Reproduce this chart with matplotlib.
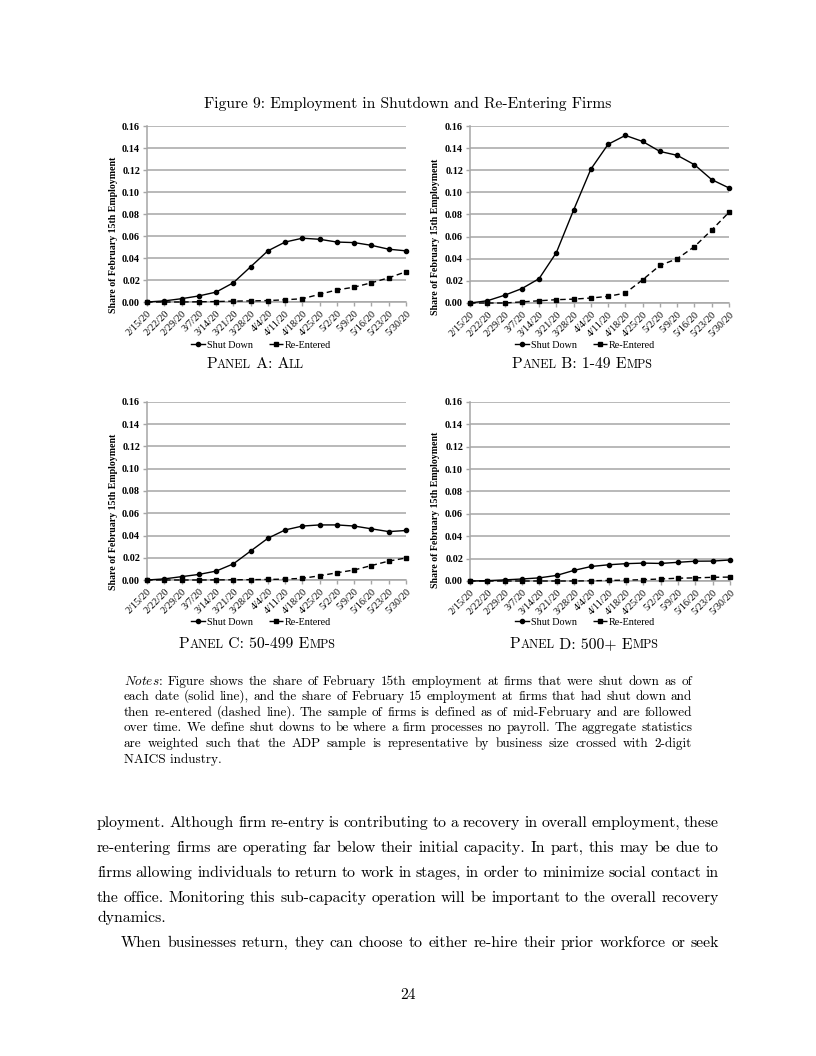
import matplotlib
matplotlib.use('Agg')
import matplotlib.pyplot as plt

dates = ['2/15/20', '2/22/20', '2/29/20', '3/7/20', '3/14/20', '3/21/20', '3/28/20', '4/4/20',
         '4/11/20', '4/18/20', '4/25/20', '5/2/20', '5/9/20', '5/16/20', '5/23/20', '5/30/20']

shut_all = [0.000, 0.001, 0.003, 0.0055, 0.009, 0.0175, 0.032, 0.0465,
            0.0545, 0.058, 0.057, 0.0545, 0.054, 0.0515, 0.048, 0.0465]
re_all = [0.000, 0.000, 0.000, 0.0002, 0.0004, 0.0008, 0.001, 0.0013,
          0.002, 0.003, 0.007, 0.011, 0.0135, 0.0175, 0.022, 0.0275]

shut_small = [0.000, 0.002, 0.007, 0.013, 0.022, 0.0455, 0.084, 0.121,
              0.1435, 0.1515, 0.146, 0.137, 0.1335, 0.125, 0.1115, 0.104]
re_small = [0.000, 0.000, 0.000, 0.001, 0.002, 0.003, 0.0035, 0.0045,
            0.006, 0.009, 0.021, 0.034, 0.040, 0.051, 0.066, 0.082]

shut_mid = [0.000, 0.001, 0.003, 0.005, 0.008, 0.0145, 0.026, 0.0375,
            0.045, 0.0485, 0.0495, 0.0495, 0.0485, 0.046, 0.0435, 0.0445]
re_mid = [0.000, 0.000, 0.000, 0.000, 0.0001, 0.0002, 0.0003, 0.0005,
          0.0008, 0.0015, 0.0038, 0.0065, 0.009, 0.013, 0.017, 0.0198]

shut_large = [0.000, 0.0003, 0.001, 0.0018, 0.0028, 0.005, 0.0095, 0.013,
              0.0145, 0.0155, 0.016, 0.0157, 0.0167, 0.0177, 0.0178, 0.0188]
re_large = [0.000, 0.000, 0.000, 0.000, 0.000, 0.000, 0.000, 0.0002,
            0.0005, 0.0008, 0.0012, 0.0018, 0.0025, 0.0028, 0.0033, 0.0035]

yticks = [0.00, 0.02, 0.04, 0.06, 0.08, 0.10, 0.12, 0.14, 0.16]

panels = [
    ('A', 'All', shut_all, re_all),
    ('B', '1-49 Emps', shut_small, re_small),
    ('C', '50-499 Emps', shut_mid, re_mid),
    ('D', '500+ Emps', shut_large, re_large),
]

W, H = 816, 1056
fig = plt.figure(figsize=(W / 100, H / 100), dpi=100)
fig.patch.set_facecolor('white')
renderer = fig.canvas.get_renderer()

TIMES = 'Liberation Serif'
CM = 'cmr10'
plt.rcParams['mathtext.fontset'] = 'cm'


def fx(x):
    return x / W


def fy(y):
    return 1 - y / H


# axes boxes in page pixels: left, right, top, bottom
boxes = [(147, 406, 126, 302), (470, 729, 126, 303), (147, 406, 402, 580), (470, 730, 402, 581)]
ylab_pos = [(113, 235), (435, 237), (113, 512), (435, 510)]
leg_pos = [(261, 345), (585, 345), (261, 622), (585, 622)]
cap_pos = [(255, 364), (582, 364), (257, 644), (584, 644)]


def small_caps(x, y, s, big=11.3, small=8.8):
    # fake small caps, centred at x
    runs = []
    for ch in s:
        sz = small if ch.islower() else big
        if runs and runs[-1][1] == sz:
            runs[-1][0] += ch.upper()
        else:
            runs.append([ch.upper(), sz])
    objs = []
    total = 0
    for txt, sz in runs:
        t = fig.text(0, fy(y), txt, fontsize=sz, family=CM, va='baseline')
        w = t.get_window_extent(renderer).width
        objs.append((t, w))
        total += w
    cur = x - total / 2
    for t, w in objs:
        t.set_x(fx(cur))
        cur += w


def justify(line, x0, x1, y, size, italic_first=False):
    words = line.split(' ')
    objs = []
    for i, wd in enumerate(words):
        if italic_first and i == 0:
            t1 = fig.text(0, fy(y), r'$\mathit{' + wd.rstrip(':') + '}$', fontsize=size, va='baseline')
            w1 = t1.get_window_extent(renderer).width
            t2 = fig.text(0, fy(y), ':', fontsize=size, family=CM, va='baseline')
            w2 = t2.get_window_extent(renderer).width
            objs.append(([(t1, 0), (t2, w1 - 0.5)], w1 - 0.5 + w2))
        else:
            t = fig.text(0, fy(y), wd, fontsize=size, family=CM, va='baseline')
            objs.append(([(t, 0)], t.get_window_extent(renderer).width))
    total = sum(w for _, w in objs)
    gap = (x1 - x0 - total) / (len(objs) - 1)
    cur = x0
    for parts, w in objs:
        for t, off in parts:
            t.set_x(fx(cur + off))
        cur += w + gap


# title
fig.text(fx(408), fy(108), 'Figure 9: Employment in Shutdown and Re-Entering Firms',
         fontsize=11.2, family=CM, ha='center', va='baseline')

for i, (letter, name, shut, reent) in enumerate(panels):
    l, r, t, b = boxes[i]
    ax = fig.add_axes([fx(l), fy(b), (r - l) / W, (b - t) / H])
    x = list(range(len(dates)))
    ax.plot(x, shut, color='black', lw=1.0, marker='o', ms=3.0, label='Shut Down', zorder=4,
            clip_on=False)
    ax.plot(x, reent, color='black', lw=1.0, ls=(0, (4, 2.5)), marker='s', ms=3.3,
            label='Re-Entered', zorder=4, clip_on=False)
    ax.set_xlim(0, len(dates) - 1)
    ax.set_ylim(0, 0.16)
    ax.set_yticks(yticks)
    ax.set_yticklabels(['%.2f' % v for v in yticks], family=TIMES, fontweight='bold', fontsize=7.3)
    ax.set_xticks(x)
    ax.set_xticklabels(dates, rotation=45, ha='right', va='top', rotation_mode='anchor',
                       family=TIMES, fontsize=7.3)
    ax.grid(axis='y', color='#a6a6a6', lw=1.1, zorder=0)
    for s in ['top', 'right']:
        ax.spines[s].set_visible(False)
    for s in ['left', 'bottom']:
        ax.spines[s].set_color('#a6a6a6')
        ax.spines[s].set_linewidth(1.1)
    ax.tick_params(axis='both', color='#a6a6a6', length=3, width=1, pad=2, labelcolor='black')
    ax.set_facecolor('none')

    yx, yy = ylab_pos[i]
    fig.text(fx(yx), fy(yy), 'Share of February 15th Employment', rotation=90,
             family=TIMES, fontweight='bold', fontsize=7.1, ha='center', va='center')

    lx, ly = leg_pos[i]
    ax.legend(loc='center', bbox_to_anchor=(fx(lx), fy(ly)), bbox_transform=fig.transFigure,
              ncol=2, frameon=False, handlelength=1.4, handletextpad=0.2, columnspacing=1.6,
              borderpad=0, prop={'family': TIMES, 'size': 7.3})

    cx, cy = cap_pos[i]
    small_caps(cx, cy + 4, 'Panel ' + letter + ': ' + name)

# notes
notes = [
    'Notes: Figure shows the share of February 15th employment at firms that were shut down as of',
    'each date (solid line), and the share of February 15 employment at firms that had shut down and',
    'then re-entered (dashed line). The sample of firms is defined as of mid-February and are followed',
    'over time. We define shut downs to be where a firm processes no payroll. The aggregate statistics',
    'are weighted such that the ADP sample is representative by business size crossed with 2-digit',
]
note_y = [685, 700, 716, 731, 747, 763]
for k, line in enumerate(notes):
    justify(line, 124, 692, note_y[k], 9.55, italic_first=(k == 0))
fig.text(fx(124), fy(note_y[5]), 'NAICS industry.', fontsize=9.55, family=CM, va='baseline')

body = [
    'ployment. Although firm re-entry is contributing to a recovery in overall employment, these',
    're-entering firms are operating far below their initial capacity. In part, this may be due to',
    'firms allowing individuals to return to work in stages, in order to minimize social contact in',
    'the office. Monitoring this sub-capacity operation will be important to the overall recovery',
]
body_y = [827, 852, 877, 902]
for k, line in enumerate(body):
    justify(line, 97, 719, body_y[k], 11.3)
fig.text(fx(97), fy(922), 'dynamics.', fontsize=11.3, family=CM, va='baseline')
justify('When businesses return, they can choose to either re-hire their prior workforce or seek',
        121, 719, 947, 11.3)

fig.text(fx(408), fy(999), '24', fontsize=11.3, family=CM, ha='center', va='baseline')

fig.savefig('out.png', dpi=100, facecolor='white')
